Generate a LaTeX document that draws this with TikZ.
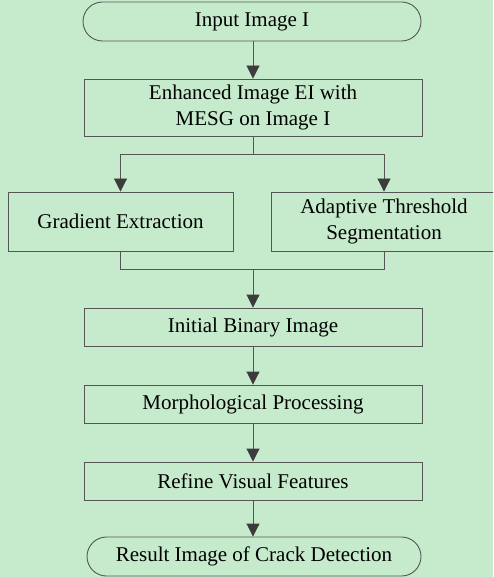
\documentclass[tikz,border=0pt]{standalone}
\usepackage{fontspec}
\setmainfont{Liberation Serif}
\usetikzlibrary{arrows.meta,positioning}
\definecolor{bgc}{HTML}{C6EBCC}
\definecolor{linec}{HTML}{555555}
\definecolor{tipc}{HTML}{3C3C3C}
\tikzset{
  x=1pt, y=-1pt,
  boxstyle/.style={draw=linec, line width=0.9pt, fill=bgc, inner sep=0pt,
    minimum width=338pt, align=center, text=black,
    font=\fontsize{21}{26}\selectfont},
  termstyle/.style={boxstyle, rounded corners=19.5pt},
  flow/.style={draw=linec, line width=0.9pt,
    -{Triangle[length=13pt,width=13pt,color=tipc]}},
  plain/.style={draw=linec, line width=0.9pt}
}
\begin{document}
\begin{tikzpicture}
  \fill[bgc] (0,0) rectangle (493,577);
  \useasboundingbox (0,0) rectangle (493,577);
  \clip (0,0) rectangle (493,577);

  \node[termstyle, minimum height=39pt] (in) at (252,21.5) {Input Image I};
  \node[boxstyle, minimum height=57pt] (enh) at (253,107.5) {Enhanced Image EI with\\MESG on Image I};
  \node[boxstyle, minimum width=225pt, minimum height=59pt] (grad) at (120.5,221.5) {Gradient Extraction};
  \node[boxstyle, minimum width=226pt, minimum height=59pt] (adap) at (384,221.5) {Adaptive Threshold\\Segmentation};
  \node[boxstyle, minimum height=38pt] (init) at (253,327) {Initial Binary Image};
  \node[boxstyle, minimum height=38pt] (morph) at (253,404) {Morphological Processing};
  \node[boxstyle, minimum height=38pt] (ref) at (253,481) {Refine Visual Features};
  \node[termstyle, minimum width=334pt, minimum height=39pt] (res) at (254,556.5) {Result Image of Crack Detection};

  \coordinate (split) at (253,154);
  \coordinate (merge) at (253,269);

  \draw[flow] (in.south -| enh.north) -- (enh.north);
  \draw[plain] (enh.south) -- (split);
  \draw[flow] (split) -| (grad.north);
  \draw[flow] (split) -| (adap.north);
  \draw[plain] (grad.south) |- (merge);
  \draw[plain] (adap.south) |- (merge);
  \draw[flow] (merge) -- (init.north);
  \draw[flow] (init.south) -- (morph.north);
  \draw[flow] (morph.south) -- (ref.north);
  \draw[flow] (ref.south) -- (ref.south |- res.north);
\end{tikzpicture}
\end{document}
